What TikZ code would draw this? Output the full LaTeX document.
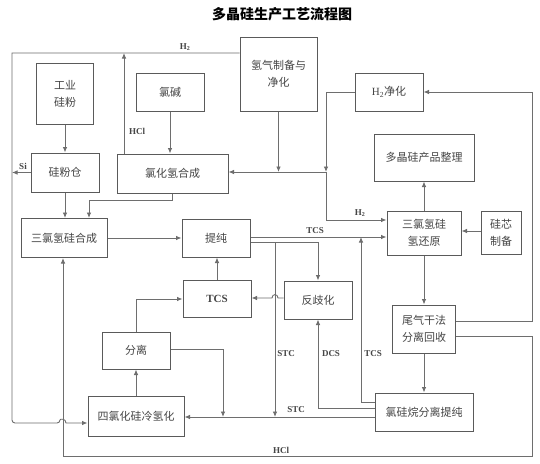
\documentclass[tikz,border=0pt]{standalone}
\usepackage{fontspec}
\setmainfont{Liberation Serif}
\newfontfamily\cjk{Noto Sans CJK SC}
\usetikzlibrary{arrows.meta}
\definecolor{ln}{HTML}{6E6E6E}
\definecolor{bx}{HTML}{5A5A5A}
\definecolor{tx}{HTML}{454545}
\begin{document}
\begin{tikzpicture}[x=1pt,y=-1pt,
  box/.style={draw=bx,line width=1pt,fill=white,inner sep=0pt,align=center,text=tx,
    font=\cjk\fontsize{11}{17}\selectfont},
  conn/.style={draw=ln,line width=0.9pt},
  arr/.style={conn,-{Latex[length=5.5pt,width=4.5pt]}},
  lbl/.style={text=tx,inner sep=0pt,font=\bfseries\fontsize{9}{10}\selectfont}]
\useasboundingbox[fill=white] (0,0) rectangle (540,463);

\node[font=\cjk\bfseries\fontsize{14}{16}\selectfont,text=black] (title) at (282,14) {多晶硅生产工艺流程图};

% boxes
\node[box,minimum width=77pt,minimum height=74pt] (qiqi) at (278.5,74) {氢气制备与\\净化};
\node[box,minimum width=57pt,minimum height=61pt] (gyfen) at (65,93.5) {工业\\硅粉};
\node[box,minimum width=68pt,minimum height=38pt] (lujian) at (170,92) {氯碱};
\node[box,minimum width=68pt,minimum height=38pt] (h2jh) at (389,92) {{\rmfamily H\textsubscript{2}}净化};
\node[box,minimum width=68pt,minimum height=39pt] (cangg) at (65,172.5) {硅粉仓};
\node[box,minimum width=111pt,minimum height=39pt] (hclhc) at (172.5,173.5) {氯化氢合成};
\node[box,minimum width=100pt,minimum height=47pt] (dpj) at (424,157.5) {多晶硅产品整理};
\node[box,minimum width=86pt,minimum height=39pt] (sxhc) at (64,238) {三氯氢硅合成};
\node[box,minimum width=68pt,minimum height=38pt] (tc) at (216,238) {提纯};
\node[box,minimum width=74pt,minimum height=44pt] (hy) at (424,233) {三氯氢硅\\氢还原};
\node[box,minimum width=40pt,minimum height=43pt] (gx) at (501,232.5) {硅芯\\制备};
\node[box,minimum width=68pt,minimum height=37pt,font=\bfseries\fontsize{11}{13}\selectfont] (tcs) at (217,298.5) {TCS};
\node[box,minimum width=68pt,minimum height=38pt] (fqh) at (318,300) {反歧化};
\node[box,minimum width=63pt,minimum height=48pt] (wq) at (424,329) {尾气干法\\分离回收};
\node[box,minimum width=68pt,minimum height=37pt] (fl) at (136,350.5) {分离};
\node[box,minimum width=96pt,minimum height=40pt] (lqh) at (136,416) {四氯化硅冷氢化};
\node[box,minimum width=98pt,minimum height=38pt] (lgw) at (424,412) {氯硅烷分离提纯};

\coordinate (j1) at (326,172);

% connectors
\draw[arr] (qiqi.west|-0,53) -- (12,53) [rounded corners=3pt] -- (12,423) -- (60,423) [sharp corners]
  .. controls (60,418.5) and (66,418.5) .. (66,423) -- (lqh.west|-0,423);
\draw[arr] (hclhc.north-|124,0) -- (124,53);
\draw[arr] (gyfen.south) -- (cangg.north);
\draw[arr] (cangg.west) -- (12,172.5);
\draw[arr] (lujian.south) -- (lujian.south|-hclhc.north);
\draw[arr] (qiqi.south) -- (qiqi.south|-j1);
\draw[arr] (j1) -- (hclhc.east|-j1);
\draw[arr] (h2jh.west) -- (326,92) -- (j1);
\draw[arr] (j1) -- (326,220) -- (hy.west|-0,220);
\draw[arr] (wq.east|-0,321) -- (532,321) -- (532,92) -- (h2jh.east);
\draw[arr] (wq.east|-0,336) -- (532,336) -- (532,456) -- (63,456) -- (sxhc.south-|63,0);
\draw[arr] (hclhc.south) -- (hclhc.south|-0,200) -- (89,200) -- (sxhc.north-|89,0);
\draw[arr] (cangg.south) -- (cangg.south|-sxhc.north);
\draw[arr] (sxhc.east) -- (tc.west);
\draw[arr] (tc.east|-0,237) -- (hy.west|-0,237);
\draw[arr] (tc.east|-0,242) -- (fqh.north|-0,242) -- (fqh.north);
\draw[arr] (275,242) -- (275,417);
\draw[arr] (fqh.west|-0,298) -- (278,298) .. controls (278,293.5) and (272,293.5) .. (272,298) -- (tcs.east|-0,298);
\draw[arr] (tcs.north) -- (tcs.north|-tc.south);
\draw[arr] (lgw.west|-0,408) -- (fqh.south|-0,408) -- (fqh.south);
\draw[arr] (lgw.west|-0,402) -- (361,402) -- (361,237);
\draw[arr] (lgw.west|-0,417) -- (lqh.east|-0,417);
\draw[arr] (fl.north) -- (fl.north|-0,299) -- (tcs.west|-0,299);
\draw[arr] (fl.east|-0,349) -- (223,349) -- (223,417);
\draw[arr] (lqh.north) -- (fl.south);
\draw[arr] (hy.north) -- (dpj.south);
\draw[arr] (gx.west|-0,231) -- (hy.east|-0,231);
\draw[arr] (hy.south) -- (wq.north);
\draw[arr] (wq.south) -- (lgw.north);

% labels
\node[lbl] (lh2a) at (185,47) {H\textsubscript{2}};
\node[lbl] (lhcla) at (137,131) {HCl};
\node[lbl] (lsi) at (23,166) {Si};
\node[lbl] (lh2b) at (360,213) {H\textsubscript{2}};
\node[lbl] (ltcsa) at (315,231) {TCS};
\node[lbl] (lstca) at (286,354) {STC};
\node[lbl] (ldcs) at (331,354) {DCS};
\node[lbl] (ltcsb) at (373,354) {TCS};
\node[lbl] (lstcb) at (296,410) {STC};
\node[lbl] (lhclb) at (281,450) {HCl};
\end{tikzpicture}
\end{document}
